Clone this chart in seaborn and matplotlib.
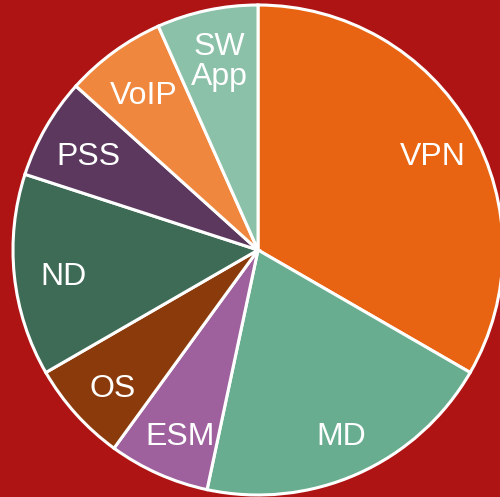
import matplotlib
matplotlib.use('Agg')
import matplotlib.pyplot as plt
import seaborn as sns

# Data (share of slices, clockwise from 12 o'clock)
labels = ['VPN', 'MD', 'ESM', 'OS', 'ND', 'PSS', 'VoIP', 'SW\nApp']
values = [5, 3, 1, 1, 2, 1, 1, 1]
colors = ['#E96412', '#68AD8F', '#9E619E', '#8B3A0B',
          '#3D6B56', '#5C385E', '#F0873F', '#8AC1A8']

bg = '#AF1414'

sns.set_theme(style='white')
plt.rcParams['font.family'] = ['Liberation Sans', 'DejaVu Sans']

fig = plt.figure(figsize=(5.0, 4.97), dpi=100, facecolor=bg)
ax = fig.add_axes([0, 0, 1, 1])
ax.set_facecolor(bg)

wedges, texts = ax.pie(values, labels=labels, colors=sns.color_palette(colors),
                       startangle=90, counterclock=False, radius=1.0,
                       labeldistance=0.81,
                       wedgeprops=dict(edgecolor='white', linewidth=2.2),
                       textprops=dict(color='white', fontsize=23))
for t in texts:
    t.set_horizontalalignment('center')
    t.set_verticalalignment('center')
    t.set_linespacing(1.0)
    x, y = t.get_position()
    t.set_position((x + 0.01, y - 0.025))

ax.set_xlim(-258 / 245, 242 / 245)
ax.set_ylim(-247 / 245, 250 / 245)
ax.set_aspect('equal')
ax.axis('off')

fig.savefig('out.png', dpi=100, facecolor=bg)
